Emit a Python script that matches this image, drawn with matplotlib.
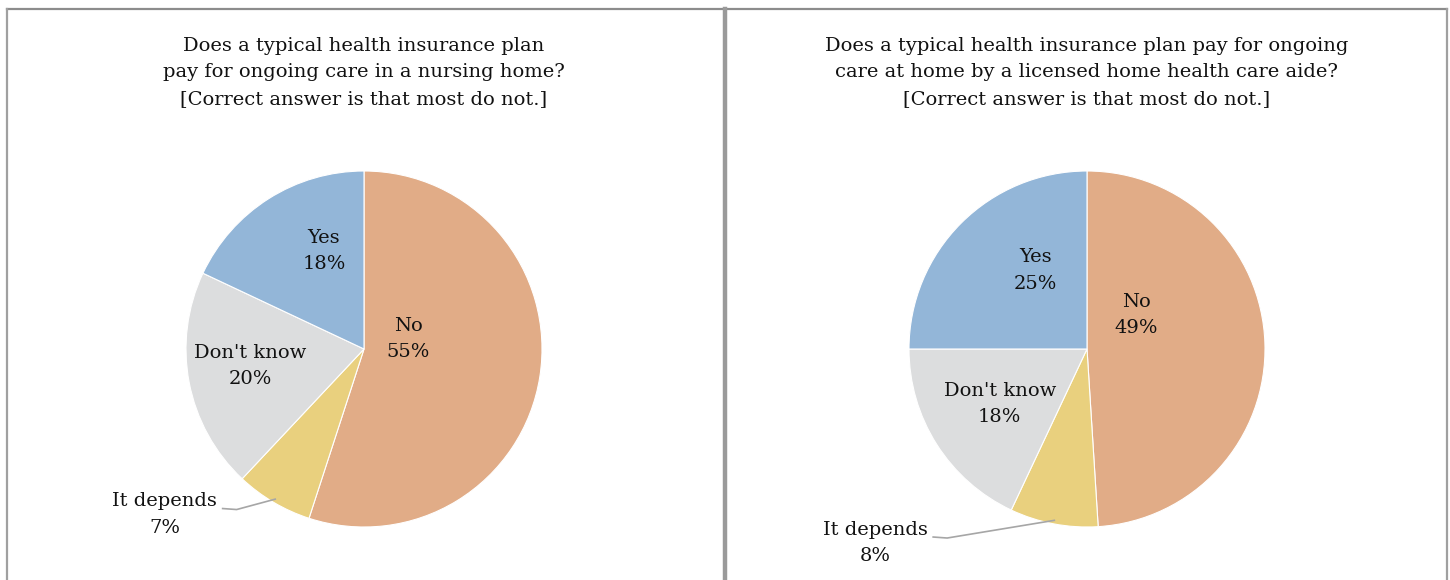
import numpy as np
import matplotlib.pyplot as plt

# ======================
# データ
# ======================
categories = ["No", "It depends", "Don't know", "Yes"]
nursing_home = [55, 7, 20, 18]
home_aide = [49, 8, 18, 25]
colors = ["#E1AC87", "#E9D07E", "#DCDDDE", "#93B6D8"]

titles = [
    "Does a typical health insurance plan\npay for ongoing care in a nursing home?\n[Correct answer is that most do not.]",
    "Does a typical health insurance plan pay for ongoing\ncare at home by a licensed home health care aide?\n[Correct answer is that most do not.]",
]

# label offsets from pie centre, in units of radius
label_pos = [
    [(0.25, 0.056), (-1.12, -0.93), (-0.64, -0.095), (-0.225, 0.55)],
    [(0.275, 0.19), (-1.19, -1.09), (-0.49, -0.31), (-0.29, 0.44)],
]

W, H = 1450, 580
fig = plt.figure(figsize=(14.5, 5.8), dpi=100)
ax = fig.add_axes([0, 0, 1, 1])

font = "DejaVu Serif"
R = 178
centers = [(364, H - 349), (1087, H - 349)]

# frame
ax.plot([7, 1447], [H - 8.5, H - 8.5], color="#8C8C8C", lw=1.6)
ax.plot([7, 7], [0, H - 8.5], color="#A0A0A0", lw=1.6)
ax.plot([1447, 1447], [0, H - 8.5], color="#A0A0A0", lw=1.6)
ax.plot([725.5, 725.5], [0, H - 8.5], color="#9A9A9A", lw=3.2)

for i, data in enumerate([nursing_home, home_aide]):
    cx, cy = centers[i]
    ax.pie(data, colors=colors, startangle=90, counterclock=False,
           center=(cx, cy), radius=R, frame=True,
           wedgeprops=dict(edgecolor="white", linewidth=0.8))

    ax.text(cx, H - 37, titles[i], ha="center", va="top", fontsize=14,
            family=font, linespacing=1.6, color="#111111")

    for j, cat in enumerate(categories):
        dx, dy = label_pos[i][j]
        ax.text(cx + dx * R, cy + dy * R, f"{cat}\n{data[j]}%",
                ha="center", va="center", fontsize=14, family=font,
                linespacing=1.6, color="#111111")

    # leader line for "It depends"
    start = sum(data[:1])
    mid = (start + data[1] / 2) / 100 * 2 * np.pi
    ex = cx + np.sin(mid) * R * 0.98
    ey = cy + np.cos(mid) * R * 0.98
    lx = cx + label_pos[i][1][0] * R
    ly = cy + label_pos[i][1][1] * R + 6
    ax.plot([lx + 58, lx + 72, ex], [ly, ly - 1, ey], color="#A6A6A6", lw=1.2)

ax.set_xlim(0, W)
ax.set_ylim(0, H)
ax.set_aspect("equal")
ax.axis("off")

fig.savefig("out.png", dpi=100, facecolor="white")
